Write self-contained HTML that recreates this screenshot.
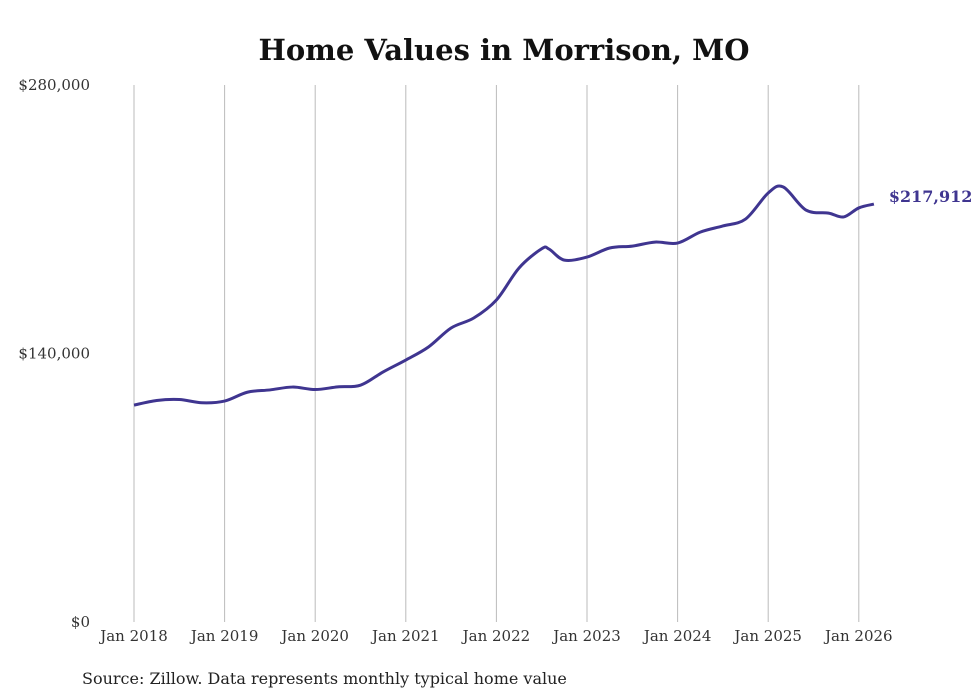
<!DOCTYPE html>
<html><head><meta charset="utf-8"><style>
body{margin:0;background:#fff;}
svg{display:block;font-family:"DejaVu Serif","Liberation Serif",serif;}
</style></head><body>
<svg width="980" height="699">
<text x="504" y="60" text-anchor="middle" font-size="29" font-weight="bold" fill="#111">Home Values in Morrison, MO</text>
<g id="grid"></g>
<g id="yax"></g>
<g id="xax"></g>
<path id="line" fill="none" stroke="#3f3590" stroke-width="3"></path>
<text id="endlabel" font-size="16" font-weight="bold" fill="#3f3590"></text>
<text x="82" y="684" font-size="16" fill="#222">Source: Zillow. Data represents monthly typical home value</text>
</svg>
<script>
const months = [0,3,6,9,12,15,18,21,24,27,30,33,36,39,42,45,48,51,54,55,57,60,63,66,69,72,75,78,81,84,86,89,92,94,96,98];
const values = [113100,115500,116000,114300,115200,119800,121000,122500,121200,122600,123500,130400,136600,143400,153300,158500,167900,184600,194600,194400,188700,190300,195000,196000,198100,197600,203300,206500,210100,223700,226800,214800,213200,211200,215900,217912];
const yTicks = [0,140000,280000];
const xTickLabels = ["Jan 2018","Jan 2019","Jan 2020","Jan 2021","Jan 2022","Jan 2023","Jan 2024","Jan 2025","Jan 2026"];
const x0=134,yearW=90.6,yTop=85,yBot=622,yMax=280000;
const X=m=>x0+m*yearW/12;
const Y=v=>yBot-v/yMax*(yBot-yTop);
const ns="http://www.w3.org/2000/svg";
const grid=document.getElementById('grid'),xax=document.getElementById('xax'),yax=document.getElementById('yax');
xTickLabels.forEach((l,i)=>{
  const x=X(i*12);
  const ln=document.createElementNS(ns,'line');
  
  
  ln.setAttribute('x1',x);ln.setAttribute('x2',x);ln.setAttribute('y1',yTop);ln.setAttribute('y2',yBot);
  ln.setAttribute('stroke','#bbb');ln.setAttribute('stroke-width','1');
  grid.appendChild(ln);
  const t=document.createElementNS(ns,'text');
  
  
  t.setAttribute('x',x);t.setAttribute('y',641);t.setAttribute('text-anchor','middle');
  t.setAttribute('font-size','15');t.setAttribute('fill','#333');t.textContent=l;
  xax.appendChild(t);
});
yTicks.forEach(v=>{
  const t=document.createElementNS(ns,'text');
  
  
  t.setAttribute('x',90);t.setAttribute('y',Y(v)+5);t.setAttribute('text-anchor','end');
  t.setAttribute('font-size','15');t.setAttribute('fill','#333');
  t.textContent='$'+v.toLocaleString('en-US');
  yax.appendChild(t);
});
const pts=months.map((m,i)=>[X(m),Y(values[i])]);
let d='M'+pts[0][0]+','+pts[0][1];
for(let i=0;i<pts.length-1;i++){
  const p0=pts[Math.max(0,i-1)],p1=pts[i],p2=pts[i+1],p3=pts[Math.min(pts.length-1,i+2)];
  const k=1/6;
  d+=' C'+(p1[0]+(p2[0]-p0[0])*k)+','+(p1[1]+(p2[1]-p0[1])*k)+' '+(p2[0]-(p3[0]-p1[0])*k)+','+(p2[1]-(p3[1]-p1[1])*k)+' '+p2[0]+','+p2[1];
}
document.getElementById('line').setAttribute('d',d);
const last=pts[pts.length-1];
const el=document.getElementById('endlabel');
el.setAttribute('x',last[0]+15);el.setAttribute('y',last[1]-2);
el.textContent='$'+values[values.length-1].toLocaleString('en-US');
</script>
</body></html>
